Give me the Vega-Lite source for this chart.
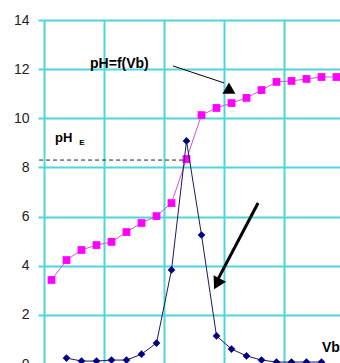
{
  "$schema": "https://vega.github.io/schema/vega-lite/v6.json",
  "autosize": "none",
  "width": 300,
  "height": 344,
  "padding": {"left": 44, "top": 20, "right": 0, "bottom": 0},
  "background": "white",
  "config": {"view": {"stroke": null}, "font": "Liberation Sans"},
  "datasets": {
    "ph": [
      {"Vb": 0, "pH": 3.42}, {"Vb": 1, "pH": 4.23}, {"Vb": 2, "pH": 4.64}, {"Vb": 3, "pH": 4.84},
      {"Vb": 4, "pH": 4.97}, {"Vb": 5, "pH": 5.37}, {"Vb": 6, "pH": 5.74}, {"Vb": 7, "pH": 6.02},
      {"Vb": 8, "pH": 6.55}, {"Vb": 9, "pH": 8.34}, {"Vb": 10, "pH": 10.13}, {"Vb": 11, "pH": 10.42},
      {"Vb": 12, "pH": 10.62}, {"Vb": 13, "pH": 10.83}, {"Vb": 14, "pH": 11.15}, {"Vb": 15, "pH": 11.48},
      {"Vb": 16, "pH": 11.52}, {"Vb": 17, "pH": 11.6}, {"Vb": 18, "pH": 11.68}, {"Vb": 19, "pH": 11.68}
    ],
    "deriv": [
      {"Vb": 1, "d": 0.24}, {"Vb": 2, "d": 0.12}, {"Vb": 3, "d": 0.12}, {"Vb": 4, "d": 0.16},
      {"Vb": 5, "d": 0.16}, {"Vb": 6, "d": 0.4}, {"Vb": 7, "d": 0.85}, {"Vb": 8, "d": 3.83},
      {"Vb": 9, "d": 9.08}, {"Vb": 10, "d": 5.25}, {"Vb": 11, "d": 1.14}, {"Vb": 12, "d": 0.61},
      {"Vb": 13, "d": 0.33}, {"Vb": 14, "d": 0.16}, {"Vb": 15, "d": 0.08}, {"Vb": 16, "d": 0.08},
      {"Vb": 17, "d": 0.08}, {"Vb": 18, "d": 0.08}
    ],
    "dash": [{"x": -0.83, "x2": 8.9, "y": 8.3}],
    "thin": [{"x": 8.1, "y": 12.13, "x2": 11.5, "y2": 11.44}],
    "thinHead": [{"x": 11.83, "y": 11.23}],
    "thick": [{"x": 13.77, "y": 6.55, "x2": 10.97, "y2": 3.3}],
    "thickHead": [{"x": 11.03, "y": 3.26}],
    "labels": [
      {"x": 2.57, "y": 12.21, "t": "pH=f(Vb)", "s": 14},
      {"x": 0.23, "y": 9.2, "t": "pH", "s": 13},
      {"x": 18.03, "y": 0.65, "t": "Vb", "s": 14}
    ],
    "sub": [{"x": 1.85, "y": 9.0, "t": "E"}]
  },
  "layer": [
    {
      "data": {"name": "ph"},
      "mark": {"type": "line", "color": "#C85AC8", "strokeWidth": 1},
      "encoding": {
        "x": {
          "field": "Vb", "type": "quantitative",
          "scale": {"domain": [-0.5, 19.5], "nice": false, "zero": false},
          "axis": {
            "values": [-0.5, 1.5, 3.5, 5.5, 7.5, 9.5, 11.5, 13.5, 15.5, 17.5, 19.5],
            "grid": true, "gridColor": "#4FD6DC", "gridWidth": 2, "gridOpacity": 1,
            "labels": false, "ticks": false, "domain": false, "title": null
          }
        },
        "y": {
          "field": "pH", "type": "quantitative",
          "scale": {"domain": [0, 14], "nice": false},
          "axis": {
            "values": [0, 2, 4, 6, 8, 10, 12, 14],
            "grid": true, "gridColor": "#4FD6DC", "gridWidth": 2, "gridOpacity": 1,
            "tickColor": "#4FD6DC", "tickSize": 6, "tickWidth": 2,
            "domain": false, "title": null,
            "labelFontSize": 14, "labelColor": "#222222", "labelPadding": 9,
            "labelFont": "Liberation Sans"
          }
        }
      }
    },
    {
      "data": {"name": "ph"},
      "mark": {"type": "point", "shape": "square", "filled": true, "color": "#FF00FF", "size": 60, "opacity": 1},
      "encoding": {
        "x": {"field": "Vb", "type": "quantitative"},
        "y": {"field": "pH", "type": "quantitative"}
      }
    },
    {
      "data": {"name": "deriv"},
      "mark": {"type": "line", "color": "#1A1A5E", "strokeWidth": 1},
      "encoding": {
        "x": {"field": "Vb", "type": "quantitative"},
        "y": {"field": "d", "type": "quantitative"}
      }
    },
    {
      "data": {"name": "deriv"},
      "mark": {"type": "point", "shape": "diamond", "filled": true, "color": "#000080", "size": 60, "opacity": 1},
      "encoding": {
        "x": {"field": "Vb", "type": "quantitative"},
        "y": {"field": "d", "type": "quantitative"}
      }
    },
    {
      "data": {"name": "dash"},
      "mark": {"type": "rule", "color": "#222222", "strokeWidth": 1, "strokeDash": [4, 3]},
      "encoding": {
        "x": {"field": "x", "type": "quantitative"},
        "x2": {"field": "x2"},
        "y": {"field": "y", "type": "quantitative"}
      }
    },
    {
      "data": {"name": "thin"},
      "mark": {"type": "rule", "color": "#000000", "strokeWidth": 1},
      "encoding": {
        "x": {"field": "x", "type": "quantitative"},
        "x2": {"field": "x2"},
        "y": {"field": "y", "type": "quantitative"},
        "y2": {"field": "y2"}
      }
    },
    {
      "data": {"name": "thinHead"},
      "mark": {"type": "point", "shape": "triangle-up", "filled": true, "color": "#000000", "size": 170, "opacity": 1},
      "encoding": {
        "x": {"field": "x", "type": "quantitative"},
        "y": {"field": "y", "type": "quantitative"}
      }
    },
    {
      "data": {"name": "thick"},
      "mark": {"type": "rule", "color": "#000000", "strokeWidth": 3},
      "encoding": {
        "x": {"field": "x", "type": "quantitative"},
        "x2": {"field": "x2"},
        "y": {"field": "y", "type": "quantitative"},
        "y2": {"field": "y2"}
      }
    },
    {
      "data": {"name": "thickHead"},
      "mark": {"type": "point", "shape": "triangle-up", "filled": true, "color": "#000000", "size": 200, "angle": 208, "opacity": 1},
      "encoding": {
        "x": {"field": "x", "type": "quantitative"},
        "y": {"field": "y", "type": "quantitative"}
      }
    },
    {
      "data": {"name": "labels"},
      "mark": {"type": "text", "align": "left", "baseline": "middle", "fontWeight": "bold", "color": "#000000", "font": "Liberation Sans"},
      "encoding": {
        "x": {"field": "x", "type": "quantitative"},
        "y": {"field": "y", "type": "quantitative"},
        "text": {"field": "t"},
        "size": {"field": "s", "type": "quantitative", "scale": null}
      }
    },
    {
      "data": {"name": "sub"},
      "mark": {"type": "text", "align": "left", "baseline": "middle", "fontWeight": "bold", "fontSize": 8, "color": "#000000", "font": "Liberation Sans"},
      "encoding": {
        "x": {"field": "x", "type": "quantitative"},
        "y": {"field": "y", "type": "quantitative"},
        "text": {"field": "t"}
      }
    }
  ]
}
